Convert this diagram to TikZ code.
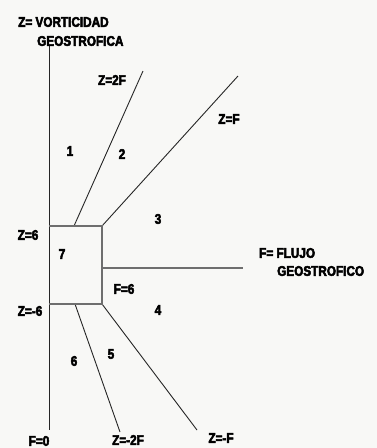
\documentclass[tikz,border=0pt]{standalone}
\usepackage{fontspec}
\setmainfont{Liberation Sans}[BoldFeatures={FakeStretch=0.84,FakeBold=3.5}]
\definecolor{bg}{HTML}{F8F8F6}
\definecolor{boxgray}{HTML}{6E6E6E}
\begin{document}
\begin{tikzpicture}[x=1pt,y=-1pt,
  lbl/.style={font=\fontsize{14}{16}\selectfont\bfseries, inner sep=0pt},
  thinline/.style={draw=black!85, line width=0.9pt},
  grayline/.style={draw=boxgray, line width=1.6pt}]
\fill[bg] (0,0) rectangle (377,448);
\useasboundingbox (0,0) rectangle (377,448);
% coordinates
\coordinate (vtop) at (49,46);
\coordinate (vbot) at (49,430);
\coordinate (btl) at (49,226);
\coordinate (btr) at (102,226);
\coordinate (bbr) at (102,304);
\coordinate (bbl) at (49,304);
\coordinate (hm) at (102,268);
\coordinate (hend) at (243,268);
\coordinate (a1) at (74,226);
\coordinate (a2) at (143,71);
\coordinate (b2) at (238,76);
\coordinate (c1) at (75,304);
\coordinate (c2) at (120,432);
\coordinate (d2) at (197,430);
% lines
\draw[thinline] (vtop) -- (vbot);
\draw[thinline] (a1) -- (a2);
\draw[thinline] (btr) -- (b2);
\draw[thinline] (c1) -- (c2);
\draw[thinline] (bbr) -- (d2);
\draw[grayline] (btl) -- (btr) -- (bbr) -- (bbl);
\draw[grayline] (hm) -- (hend);
% labels
\node[lbl, anchor=west] (zv) at (18,22) {Z= VORTICIDAD};
\node[lbl, anchor=west] (zg) at (37,41) {GEOSTROFICA};
\node[lbl] (z2f) at (112,80) {Z=2F};
\node[lbl] (zf) at (229,119) {Z=F};
\node[lbl] (r1) at (70,151) {1};
\node[lbl] (r2) at (122,154) {2};
\node[lbl] (r3) at (158,219) {3};
\node[lbl] (z6) at (28,235) {Z=6};
\node[lbl] (r7) at (62,254) {7};
\node[lbl] (f6) at (124,289) {F=6};
\node[lbl] (r4) at (158,310) {4};
\node[lbl] (zm6) at (30,311) {Z=-6};
\node[lbl, anchor=west] (ff) at (259,253) {F= FLUJO};
\node[lbl, anchor=west] (fg) at (277,271) {GEOSTROFICO};
\node[lbl] (r6) at (74,361) {6};
\node[lbl] (r5) at (111,354) {5};
\node[lbl] (f0) at (39,441) {F=0};
\node[lbl] (zm2f) at (128,440) {Z=-2F};
\node[lbl] (zmf) at (221,438) {Z=-F};
\end{tikzpicture}
\end{document}
